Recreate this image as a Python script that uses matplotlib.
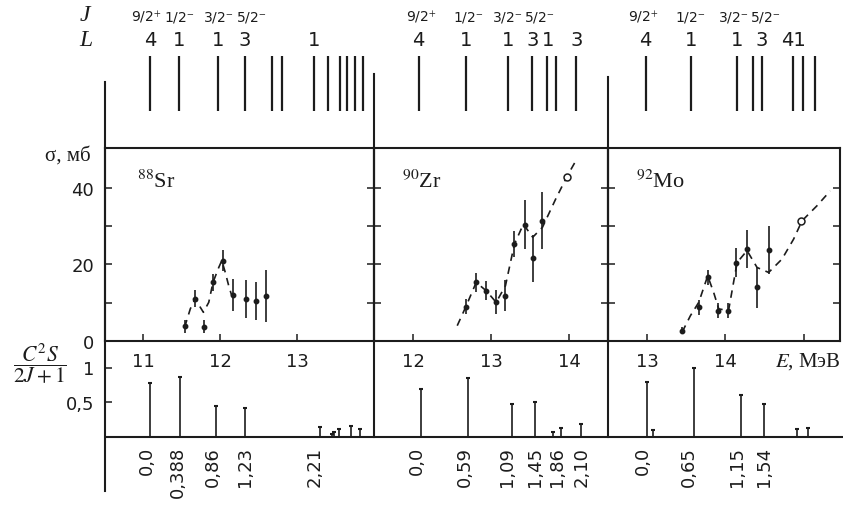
import matplotlib
matplotlib.use('Agg')
import matplotlib.pyplot as plt

plt.rcParams['font.family'] = ['DejaVu Sans']
plt.rcParams['mathtext.fontset'] = 'stix'

# ---------------- data ----------------
nuclei = ['$^{88}$Sr', '$^{90}$Zr', '$^{92}$Mo']
E0 = [11.09, 12.10, 13.00]          # threshold energy of ground state, MeV

# measured cross sections (E, sigma, error)
sr_E   = [11.536, 11.675, 11.792, 11.905, 12.03, 12.165, 12.334, 12.468, 12.597]
sr_sig = [3.8, 11.0, 3.7, 15.3, 21.0, 12.0, 11.0, 10.5, 11.7]
sr_err = [1.7, 2.2, 1.7, 2.2, 2.8, 4.1, 5.0, 5.0, 6.8]
sr_open_E, sr_open_sig = [], []
sr_curve_E = [11.536, 11.61, 11.675, 11.74, 11.78, 11.85, 11.905, 11.98, 12.02, 12.065, 12.11, 12.15]
sr_curve_s = [3.6, 8.4, 11.1, 8.8, 7.5, 10.1, 15.3, 19.2, 21.0, 17.9, 14.4, 11.8]

zr_E   = [12.674, 12.81, 12.94, 13.06, 13.185, 13.30, 13.43, 13.535, 13.66]
zr_sig = [9.0, 15.3, 13.1, 10.1, 11.8, 25.3, 30.3, 21.6, 31.4]
zr_err = [2.0, 2.5, 2.5, 3.1, 4.0, 3.4, 6.4, 6.1, 7.5]
zr_open_E, zr_open_sig = [13.98], [42.7]
zr_curve_E = [12.567, 12.683, 12.81, 12.94, 13.066, 13.185, 13.30, 13.415, 13.535, 13.66, 13.83, 13.98, 14.10]
zr_curve_s = [4.0, 9.2, 15.3, 13.1, 10.1, 14.4, 25.3, 30.5, 27.1, 29.7, 37.1, 43.2, 47.5]

mo_E   = [13.447, 13.66, 13.774, 13.90, 14.034, 14.14, 14.277, 14.405, 14.553]
mo_sig = [2.7, 8.8, 16.6, 7.9, 7.9, 20.4, 24.0, 14.0, 23.8]
mo_err = [1.0, 2.0, 2.0, 2.0, 2.0, 3.8, 5.0, 5.4, 6.3]
mo_open_E, mo_open_sig = [14.967], [31.4]
mo_curve_E = [13.447, 13.553, 13.66, 13.774, 13.85, 13.915, 14.04, 14.15, 14.277, 14.405, 14.553, 14.724, 14.872, 14.98, 15.17, 15.34]
mo_curve_s = [2.3, 6.6, 10.1, 17.0, 12.7, 8.4, 7.9, 20.5, 23.6, 19.2, 17.9, 21.4, 26.6, 31.4, 35.3, 39.2]

# spectroscopic strengths C^2S/(2J+1) vs excitation energy
sr_Ex = [0.0, 0.388, 0.86, 1.23, 2.21, 2.37, 2.39, 2.455, 2.61, 2.73]
sr_S  = [0.78, 0.86, 0.45, 0.42, 0.14, 0.05, 0.07, 0.11, 0.16, 0.11]
zr_Ex = [0.0, 0.60, 1.165, 1.47, 1.70, 1.80, 2.06]
zr_S  = [0.69, 0.85, 0.47, 0.51, 0.07, 0.13, 0.18]
mo_Ex = [0.0, 0.08, 0.60, 1.20, 1.50, 1.91, 2.05]
mo_S  = [0.79, 0.10, 1.0, 0.60, 0.47, 0.11, 0.13]

# excitation-energy labels (text, position in Ex)
sr_lab = ['0,0', '0,388', '0,86', '1,23', '2,21']
sr_lab_x = [-0.04, 0.36, 0.82, 1.235, 2.14]
zr_lab = ['0,0', '0,59', '1,09', '1,45', '1,86', '2,10']
zr_lab_x = [-0.05, 0.56, 1.11, 1.46, 1.75, 2.06]
mo_lab = ['0,0', '0,65', '1,15', '1,54']
mo_lab_x = [-0.06, 0.53, 1.15, 1.49]

# level scheme (top): level positions, L values, J values
sr_lev = [0.0, 0.377, 0.883, 1.234, 1.585, 1.715, 2.13, 2.31, 2.47, 2.56, 2.66, 2.77]
sr_L = ['4', '1', '1', '3', '1']
sr_L_x = [0.0, 0.377, 0.883, 1.234, 2.13]
zr_lev = [-0.027, 0.574, 1.124, 1.43, 1.62, 1.73, 1.995]
zr_L = ['4', '1', '1', '3', '1', '3']
zr_L_x = [-0.027, 0.574, 1.124, 1.43, 1.63, 1.995]
mo_lev = [-0.02, 0.566, 1.153, 1.357, 1.47, 1.87, 1.995, 2.15]
mo_L = ['4', '1', '1', '3', '41']
mo_L_x = [-0.02, 0.566, 1.153, 1.47, 1.87]
J_txt = ['9/2$^{+}$', '1/2$^{-}$', '3/2$^{-}$', '5/2$^{-}$']
sr_J_x = [-0.05, 0.37, 0.88, 1.31]
zr_J_x = [0.0, 0.60, 1.11, 1.51]
mo_J_x = [-0.05, 0.55, 1.10, 1.51]

# ---------------- layout ----------------
W, H = 843, 506
fig = plt.figure(figsize=(W / 100, H / 100), dpi=100)
INK = '#1c1c1c'

def ax_px(x0, y0, x1, y1):
    a = fig.add_axes([x0 / W, 1 - y1 / H, (x1 - x0) / W, (y1 - y0) / H])
    a.patch.set_alpha(0)
    return a

panel_x = [(105, 374), (374, 608), (608, 840)]
E_lim = [(10.5, 14.0), (11.5, 14.5), (12.5, 15.465)]
xt = [[11, 12, 13], [12, 13, 14], [13, 14, 15]]
xtl = [['11', '12', '13'], ['12', '13', '14'], ['13', '14', '']]

meas = [(sr_E, sr_sig, sr_err, sr_open_E, sr_open_sig, sr_curve_E, sr_curve_s),
        (zr_E, zr_sig, zr_err, zr_open_E, zr_open_sig, zr_curve_E, zr_curve_s),
        (mo_E, mo_sig, mo_err, mo_open_E, mo_open_sig, mo_curve_E, mo_curve_s)]
strength = [(sr_Ex, sr_S, sr_lab, sr_lab_x), (zr_Ex, zr_S, zr_lab, zr_lab_x),
            (mo_Ex, mo_S, mo_lab, mo_lab_x)]
levels = [(sr_lev, sr_L, sr_L_x, sr_J_x), (zr_lev, zr_L, zr_L_x, zr_J_x),
          (mo_lev, mo_L, mo_L_x, mo_J_x)]

Y_MID0, Y_MID1 = 149, 342
Y_BASE = 438
PX_PER_S = 69.5

for i in range(3):
    x0, x1 = panel_x[i]
    e0, e1 = E_lim[i]
    # ---- middle: cross sections ----
    am = ax_px(x0, Y_MID0, x1, Y_MID1)
    am.set_xlim(e0, e1)
    am.set_ylim(0, 50.4)
    E, s, err, oE, os_, cE, cs = meas[i]
    am.plot(cE, cs, ls=(0, (4.5, 3.5)), color=INK, lw=1.2)
    am.errorbar(E, s, yerr=err, fmt='o', ms=3.2, color=INK, ecolor=INK,
                elinewidth=1.2, capsize=0)
    if oE:
        am.plot(oE, os_, 'o', ms=5, mfc='white', mec=INK, mew=1.1)
    for sp in am.spines.values():
        sp.set_linewidth(1.5)
        sp.set_color(INK)
    am.set_xticks(xt[i])
    am.set_xticklabels(xtl[i])
    am.set_yticks([0, 10, 20, 30, 40])
    if i == 0:
        am.set_yticklabels(['0', '', '20', '', '40'])
    else:
        am.set_yticklabels([])
    am.tick_params(axis='both', direction='in', length=5, width=1.1,
                   color=INK, labelsize=13, labelcolor=INK)
    am.tick_params(axis='x', pad=8)
    am.tick_params(axis='y', right=True, pad=8)
    am.text(0.12, 0.8, nuclei[i], transform=am.transAxes, fontsize=16,
            family='Liberation Serif', color=INK, va='baseline', ha='left')

    # ---- bottom: strengths ----
    bx1 = 843 if i == 2 else x1
    ab = ax_px(x0, Y_MID1, bx1, 506)
    ab.set_xlim(e0, e0 + (bx1 - x0) * (e1 - e0) / (x1 - x0))
    ab.set_ylim(-(506 - Y_BASE) / PX_PER_S, (Y_BASE - Y_MID1) / PX_PER_S)
    for sp in ab.spines.values():
        sp.set_visible(False)
    ab.axhline(0, color=INK, lw=1.5)
    Ex, S, lab, lab_x = strength[i]
    Ep = [E0[i] + v for v in Ex]
    ab.vlines(Ep, 0, S, color=INK, lw=1.2)
    ab.plot(Ep, S, ls='none', marker='_', ms=3.5, mew=1.5, color=INK)
    for t, lx in zip(lab, lab_x):
        ab.text(E0[i] + lx, -0.13, t, rotation=90, ha='center', va='top',
                fontsize=13, color=INK)
    ab.set_xticks([])
    if i == 0:
        ab.set_yticks([0.5, 1.0])
        ab.set_yticklabels(['0,5', '1'])
        ab.tick_params(axis='y', direction='in', length=5, width=1.1,
                       color=INK, labelsize=13, labelcolor=INK, pad=8)
    else:
        ab.set_yticks([])

    # ---- top: level scheme ----
    at = ax_px(x0, 0, x1, Y_MID0)
    at.set_xlim(e0, e1)
    at.set_ylim(0, 1)
    at.axis('off')
    lev, L, Lx, Jx = levels[i]
    at.vlines([E0[i] + v for v in lev], 0.248, 0.617, color=INK, lw=1.6)
    for t, lx in zip(L, Lx):
        at.text(E0[i] + lx, 0.73, t, ha='center', va='center', fontsize=14,
                color=INK)
    for t, jx in zip(J_txt, Jx):
        at.text(E0[i] + jx, 0.885, t, ha='center', va='center', fontsize=10,
                color=INK)

# ---------------- overlay (frame lines, axis titles) ----------------
ov = fig.add_axes([0, 0, 1, 1], zorder=-1)
ov.set_xlim(0, W)
ov.set_ylim(H, 0)
ov.axis('off')
ov.plot([105, 105], [83, 492], color=INK, lw=1.5)
ov.plot([374, 374], [75, Y_BASE], color=INK, lw=1.5)
ov.plot([608, 608], [78, Y_BASE], color=INK, lw=1.5)

ov.text(85, 15, 'J', fontsize=17, family='Liberation Serif', style='italic',
        ha='center', va='center', color=INK)
ov.text(86, 40, 'L', fontsize=17, family='Liberation Serif', style='italic',
        ha='center', va='center', color=INK)
ov.text(91, 156, 'σ, мб', fontsize=15, family='Liberation Serif',
        ha='right', va='center', color=INK)
ov.text(40, 364, r'$\dfrac{C^2S}{2J+1}$', fontsize=15.5, ha='center',
        va='center', color=INK)
ov.text(841, 362, '$E$, МэВ', fontsize=15, family='Liberation Serif',
        ha='right', va='center', color=INK)

fig.savefig('out.png', dpi=100)
